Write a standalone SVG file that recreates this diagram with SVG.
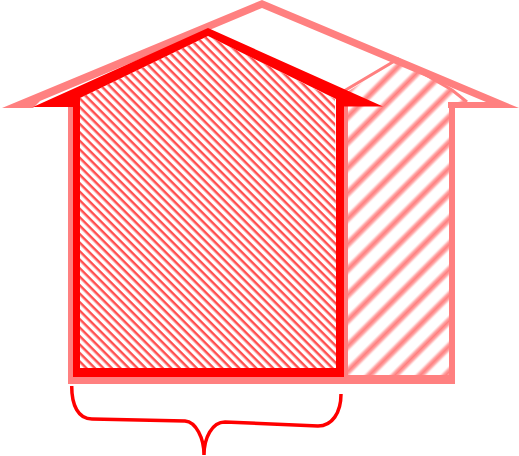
<svg xmlns="http://www.w3.org/2000/svg" width="519" height="456" viewBox="0 0 519 456">
<defs>
<linearGradient id="soft" x1="0" y1="0" x2="0" y2="1">
<stop offset="0" stop-color="#ff8080" stop-opacity="0"/>
<stop offset="0.25" stop-color="#ff8080" stop-opacity="0.7"/>
<stop offset="0.5" stop-color="#ff8080"/>
<stop offset="0.75" stop-color="#ff8080" stop-opacity="0.7"/>
<stop offset="1" stop-color="#ff8080" stop-opacity="0"/>
</linearGradient>
<pattern id="wide" width="18" height="18" patternUnits="userSpaceOnUse" patternTransform="rotate(-45)">
<rect width="18" height="18" fill="#fff"/>
<rect y="0" width="18" height="9" fill="url(#soft)"/>
</pattern>
<pattern id="fine" width="6" height="6" patternUnits="userSpaceOnUse" patternTransform="rotate(45)">
<rect width="6" height="6" fill="#fff"/>
<rect y="0" width="6" height="2.500" fill="#ff5050"/>
</pattern>
<style>
.light{fill:#ff8080}
.dark{fill:#f00}
.brace{fill:none;stroke:#f00;stroke-width:3.5}
</style>
</defs>
<polygon fill="url(#wide)" points="347,108 347,92 398,60 452,90 465,102 449,102 449,375 347,375"/>
<path fill="none" stroke="#ff8080" stroke-width="3" d="M344 91L398 59L452 90L467 102"/>
<path class="light" d="M2 108L262 0L519 108L448 108L448 102L486 102L262 8L40 101L33 108Z"/>
<path class="light" d="M68 100H73V384H68ZM449 102H455V384H449ZM344 100H348V380H344ZM68 375H455V384H68Z"/>
<polygon fill="url(#fine)" points="80,98 208,36 335,99 337,368 80,368"/>
<path class="dark" fill-rule="evenodd" d="M33 107L208 28L383 106.500L344 106.500L344 377L73 377L73 107ZM208 36L80 98L80 368L336 368L336 99Z"/>
<path class="brace" d="M71.700 386C71.700 405 78 419 92 419L185 421C196 422 204 438 204 455C204 438 212 422 225 422L318 426C332 426 341 413 341 394"/>
</svg>
